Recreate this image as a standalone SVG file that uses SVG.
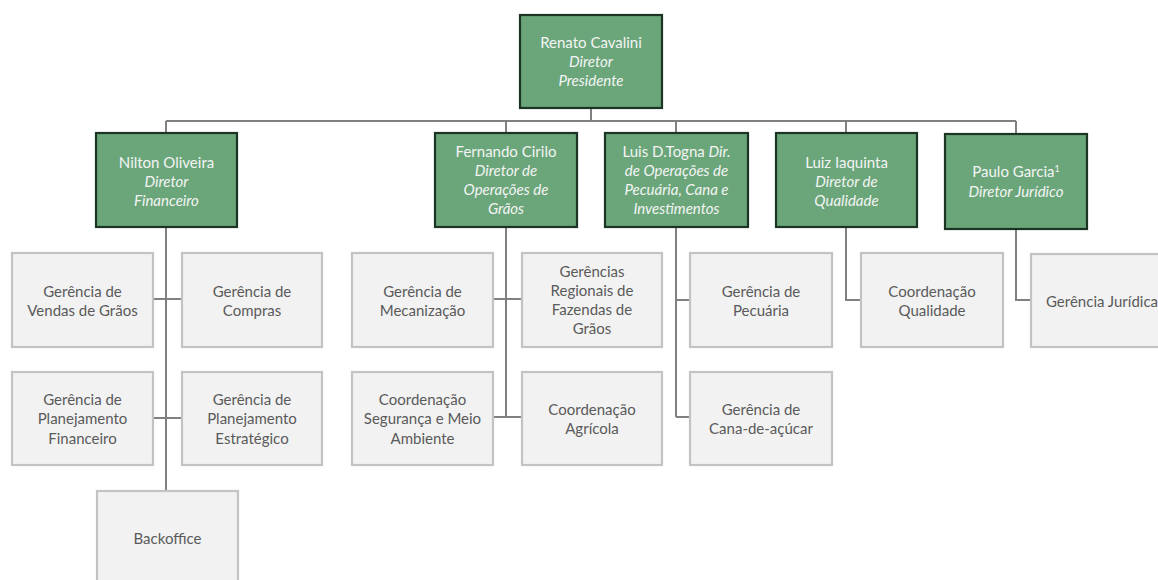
<svg xmlns="http://www.w3.org/2000/svg" width="1158" height="580" viewBox="0 0 1158 580">
<style>
.g rect{fill:#6aa67a;stroke:#1c3424;stroke-width:2.2}
.g text{fill:#f4f4f4;font-family:Lato,"Liberation Sans",sans-serif;font-size:15px;text-anchor:middle}
.g .i{font-style:italic}
.m rect{fill:#f2f2f2;stroke:#c3c3c3;stroke-width:2.2}
.m text{fill:#5a5a5a;font-family:Lato,"Liberation Sans",sans-serif;font-size:15px;text-anchor:middle}
#connectors path{fill:none;stroke:#808080;stroke-width:2}
</style>
<rect width="1158" height="580" fill="#ffffff"/>
<g id="connectors">
<path d="M591 108V121M166 121H1016M166 121V133M506 121V133M676 121V133M846 121V133M1016 121V134"/>
<path d="M166 227V491M153 299H182M153 418H182"/>
<path d="M506 227V417M493 299H522M493 417H522"/>
<path d="M676 227V417M676 300H690M676 417H690"/>
<path d="M846 227V300H861"/>
<path d="M1016 229V300H1031"/>
</g>
<g id="n-renato" class="g"><rect x="520" y="15" width="142" height="93"/>
<text x="591" y="48">Renato Cavalini</text><text class="i" x="591" y="67">Diretor</text><text class="i" x="591" y="86">Presidente</text></g>
<g id="n-nilton" class="g"><rect x="96" y="133" width="141" height="94"/>
<text x="166.5" y="168">Nilton Oliveira</text><text class="i" x="166.5" y="187">Diretor</text><text class="i" x="166.5" y="206">Financeiro</text></g>
<g id="n-fernando" class="g"><rect x="435" y="133" width="142" height="94"/>
<text x="506" y="157">Fernando Cirilo</text><text class="i" x="506" y="176">Diretor de</text><text class="i" x="506" y="195">Operações de</text><text class="i" x="506" y="214">Grãos</text></g>
<g id="n-luis" class="g"><rect x="605" y="133" width="143" height="94"/>
<text x="676.5" y="157">Luis D.Togna <tspan font-style="italic">Dir.</tspan></text><text class="i" x="676.5" y="176">de Operações de</text><text class="i" x="676.5" y="195">Pecuária, Cana e</text><text class="i" x="676.5" y="214">Investimentos</text></g>
<g id="n-luiz" class="g"><rect x="776" y="133" width="141" height="94"/>
<text x="846.5" y="168">Luiz Iaquinta</text><text class="i" x="846.5" y="187">Diretor de</text><text class="i" x="846.5" y="206">Qualidade</text></g>
<g id="n-paulo" class="g"><rect x="945" y="134" width="142" height="95"/>
<text x="1016" y="177">Paulo Garcia<tspan font-size="9" dy="-5">1</tspan></text><text class="i" x="1016" y="197">Diretor Jurídico</text></g>
<g id="n-vendas" class="m"><rect x="12" y="253" width="141" height="94"/>
<text x="82.5" y="296.5">Gerência de</text><text x="82.5" y="316">Vendas de Grãos</text></g>
<g id="n-compras" class="m"><rect x="182" y="253" width="140" height="94"/>
<text x="252" y="296.5">Gerência de</text><text x="252" y="316">Compras</text></g>
<g id="n-planfin" class="m"><rect x="12" y="372" width="141" height="93"/>
<text x="82.5" y="405">Gerência de</text><text x="82.5" y="424">Planejamento</text><text x="82.5" y="444">Financeiro</text></g>
<g id="n-planest" class="m"><rect x="182" y="372" width="140" height="93"/>
<text x="252" y="405">Gerência de</text><text x="252" y="424">Planejamento</text><text x="252" y="444">Estratégico</text></g>
<g id="n-backoffice" class="m"><rect x="97" y="491" width="141" height="100"/>
<text x="167.5" y="544">Backoffice</text></g>
<g id="n-mecanizacao" class="m"><rect x="352" y="253" width="141" height="94"/>
<text x="422.5" y="296.5">Gerência de</text><text x="422.5" y="316">Mecanização</text></g>
<g id="n-regionais" class="m"><rect x="522" y="253" width="140" height="94"/>
<text x="592" y="277">Gerências</text><text x="592" y="296">Regionais de</text><text x="592" y="315">Fazendas de</text><text x="592" y="334">Grãos</text></g>
<g id="n-seguranca" class="m"><rect x="352" y="372" width="141" height="93"/>
<text x="422.5" y="405">Coordenação</text><text x="422.5" y="424">Segurança e Meio</text><text x="422.5" y="444">Ambiente</text></g>
<g id="n-agricola" class="m"><rect x="522" y="372" width="140" height="93"/>
<text x="592" y="415">Coordenação</text><text x="592" y="434">Agrícola</text></g>
<g id="n-pecuaria" class="m"><rect x="690" y="253" width="142" height="94"/>
<text x="761" y="296.5">Gerência de</text><text x="761" y="316">Pecuária</text></g>
<g id="n-cana" class="m"><rect x="690" y="372" width="142" height="93"/>
<text x="761" y="415">Gerência de</text><text x="761" y="434">Cana-de-açúcar</text></g>
<g id="n-qualidade" class="m"><rect x="861" y="253" width="142" height="94"/>
<text x="932" y="296.5">Coordenação</text><text x="932" y="316">Qualidade</text></g>
<g id="n-juridica" class="m"><rect x="1031" y="254" width="142" height="93"/>
<text x="1102" y="307">Gerência Jurídica</text></g>
</svg>
